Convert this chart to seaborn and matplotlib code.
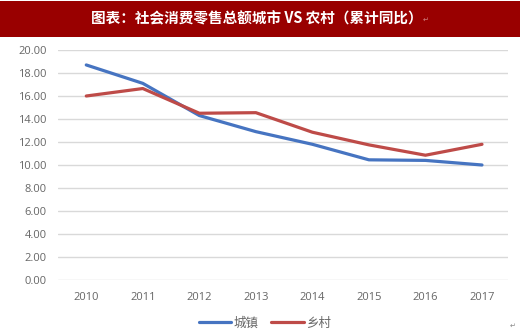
import matplotlib
matplotlib.use("Agg")
import matplotlib.pyplot as plt
import seaborn as sns
import pandas as pd
from matplotlib.patches import Rectangle

years = ["2010", "2011", "2012", "2013", "2014", "2015", "2016", "2017"]
urban = [18.7, 17.1, 14.3, 12.9, 11.8, 10.45, 10.4, 10.0]
rural = [16.0, 16.65, 14.5, 14.55, 12.85, 11.75, 10.85, 11.8]
series_names = ["城镇", "乡村"]
yticks = [0, 2, 4, 6, 8, 10, 12, 14, 16, 18, 20]
title = "图表：社会消费零售总额城市 VS 农村（累计同比）"

sns.set_theme(style="white")
plt.rcParams['font.family'] = ['Noto Sans CJK SC', 'DejaVu Sans']

df = pd.DataFrame({
    "x": list(range(len(years))) * 2,
    "value": urban + rural,
    "series": [series_names[0]] * len(years) + [series_names[1]] * len(years),
})

fig = plt.figure(figsize=(5.2, 3.33), dpi=100)
ax = fig.add_axes([58/520, 1-280/333, 450/520, 230/333])

palette = {series_names[0]: "#4674C1", series_names[1]: "#BE4B48"}
sns.lineplot(data=df, x="x", y="value", hue="series", palette=palette,
             linewidth=2.3, ax=ax, legend=False)

ax.set_xlim(-0.5, len(years) - 0.54)
ax.set_ylim(0, 20)
ax.set_yticks(yticks)
ax.set_yticklabels([f"{v:.2f}" for v in yticks])
ax.set_xticks(range(len(years)))
ax.set_xticklabels(years)
ax.set_xlabel("")
ax.set_ylabel("")
for s in ax.spines.values():
    s.set_visible(False)
ax.grid(axis="y", color="#D9D9D9", linewidth=1.0)
ax.set_axisbelow(True)
ax.tick_params(axis="both", length=0, labelsize=8, labelcolor="#666666")
ax.tick_params(axis="y", pad=8)
ax.tick_params(axis="x", pad=9)
for lbl in ax.get_xticklabels() + ax.get_yticklabels():
    lbl.set_family(["Open Sans", "DejaVu Sans"])

# title band
fig.patches.append(Rectangle((0, 1-37/333), 1, 36/333, transform=fig.transFigure,
                             facecolor="#990000", edgecolor="none", zorder=0))
fig.text(0.493, 1-18/333, title, color="white", fontsize=10.5, fontweight="bold",
         ha="center", va="center")
fig.text(0.818, 1-20/333, "↵", color="#D08080", fontsize=5, ha="center", va="center",
         family=["DejaVu Sans"])

# legend
from matplotlib.lines import Line2D
handles = [Line2D([0], [0], color=palette[n], linewidth=2.3) for n in series_names]
leg = fig.legend(handles, series_names, loc="center", bbox_to_anchor=(0.51, 1-323/333),
                 ncol=2, frameon=False, fontsize=9, handlelength=2.6, handletextpad=0.2,
                 columnspacing=1.0)
for t in leg.get_texts():
    t.set_color("#666666")
fig.text(0.985, 1-326/333, "↵", color="#888888", fontsize=5, ha="center", va="center",
         family=["DejaVu Sans"])

fig.savefig("out.png", dpi=100)
